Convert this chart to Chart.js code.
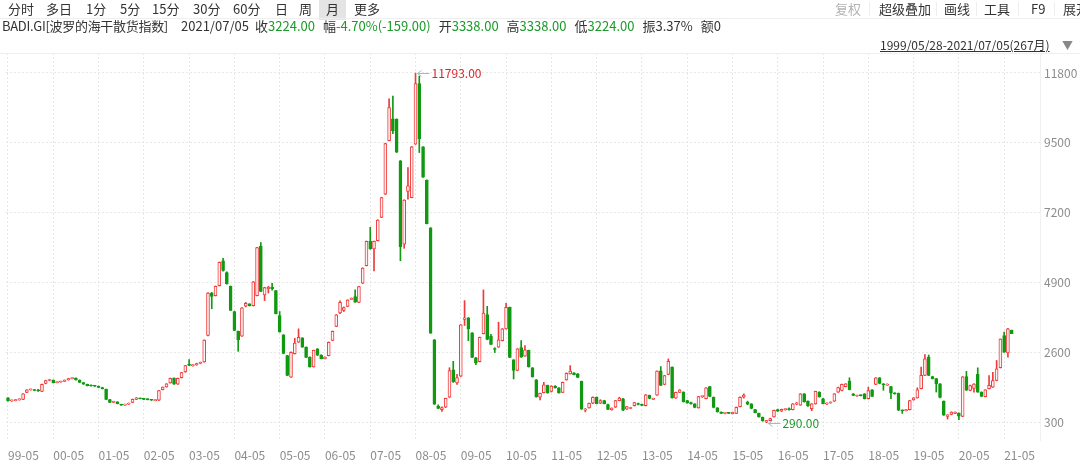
<!DOCTYPE html>
<html>
<head>
<meta charset="utf-8">
<script src="https://cdn.jsdelivr.net/npm/chart.js@4.4.1/dist/chart.umd.min.js"></script>
<style>
  body { margin: 0; width: 1080px; height: 467px; overflow: hidden; background: #fff;
         font-family: "Noto Sans CJK SC", "Noto Sans", sans-serif; }
  #chart { position: absolute; left: 0; top: 0; }
  .t { position: absolute; font-size: 13px; color: #333; white-space: nowrap; line-height: 18px; }
  .g { color: #1a9a28; }
  .dim { color: #b4b4b4; }
  .info { position: absolute; left: 255px; top: 17px; display: flex; font-size: 13px; color: #333;
          line-height: 18px; white-space: nowrap; }
  .info span.grp { margin-right: 8px; }
  .sel { position: absolute; left: 319px; top: 0; width: 27px; height: 20px; background: #e4e4e4; }
  .hl { position: absolute; left: 0; width: 1080px; height: 1px; background: #efefef; }
  .vl { position: absolute; top: 2px; width: 1px; height: 14px; background: #eeeeee; }
  .range { position: absolute; left: 880px; top: 37px; font-size: 12px; color: #333;
           text-decoration: underline; line-height: 16px; white-space: nowrap; }
  .arrow { position: absolute; left: 1062px; top: 37px; font-size: 11px; color: #888; line-height: 16px; }
</style>
</head>
<body>
<canvas id="chart" width="1080" height="467"></canvas>

<div class="sel"></div>
<div class="hl" style="top:18px"></div>
<div class="hl" style="top:53px"></div>

<!-- barra periodi -->
<div class="t" style="left:8px;top:0">分时</div>
<div class="t" style="left:46px;top:0">多日</div>
<div class="t" style="left:86px;top:0">1分</div>
<div class="t" style="left:120px;top:0">5分</div>
<div class="t" style="left:152px;top:0">15分</div>
<div class="t" style="left:193px;top:0">30分</div>
<div class="t" style="left:233px;top:0">60分</div>
<div class="t" style="left:275px;top:0">日</div>
<div class="t" style="left:299px;top:0">周</div>
<div class="t" style="left:326px;top:0">月</div>
<div class="t" style="left:354px;top:0">更多</div>

<div class="t dim" style="left:835px;top:0">复权</div>
<div class="vl" style="left:869px"></div>
<div class="t" style="left:879px;top:0">超级叠加</div>
<div class="vl" style="left:936px"></div>
<div class="t" style="left:944px;top:0">画线</div>
<div class="vl" style="left:976px"></div>
<div class="t" style="left:984px;top:0">工具</div>
<div class="vl" style="left:1018px"></div>
<div class="t" style="left:1031px;top:0">F9</div>
<div class="vl" style="left:1054px"></div>
<div class="t" style="left:1063px;top:0">展开</div>

<!-- riga info -->
<div class="t" style="left:2px;top:17px;letter-spacing:-0.3px">BADI.GI[波罗的海干散货指数]</div>
<div class="t" style="left:181px;top:17px">2021/07/05</div>
<div class="info">
  <span class="grp">收<span class="g">3224.00</span></span>
  <span class="grp">幅<span class="g">-4.70%(-159.00)</span></span>
  <span class="grp">开<span class="g">3338.00</span></span>
  <span class="grp">高<span class="g">3338.00</span></span>
  <span class="grp">低<span class="g">3224.00</span></span>
  <span class="grp">振3.37%</span>
  <span class="grp">额0</span>
</div>

<div class="range">1999/05/28-2021/07/05(267月)</div>
<div class="arrow">▼</div>

<script>
// dati mensili BDI, 1999/05 - 2021/07
const opens = [
  1110,1010,1020,1040,1060,1290,1370,1380,                      // 1999 (mag-dic)
  1360,1320,1580,1680,1690,1610,1630,1650,1700,1740,1760,1690,  // 2000
  1610,1550,1520,1500,1490,1450,1395,1056,960,980,890,870,      // 2001
  900,960,1060,1090,1080,1060,1050,1020,1030,1380,1470,1600,    // 2002
  1760,1560,1770,1960,2200,2170,2190,2240,2290,3160,4560,4470,  // 2003
  4800,5620,5230,4780,3950,3300,3140,4130,4200,4140,4470,6100,  // 2004
  4500,4700,4750,4640,3820,3180,2500,1790,2560,2940,3080,2780,  // 2005
  2450,2130,2720,2520,2400,2500,3000,3460,3900,3990,4120,4350,  // 2006
  4440,4250,4880,5460,6260,6010,6280,7050,7810,9570,10290,10280,// 2007
  8910,6170,7900,7700,9460,11450,9370,8270,6700,3020,840,720,   // 2008
  800,1130,2030,1600,1820,3690,3740,3250,2430,2300,3220,3850,   // 2009
  3130,2730,2780,2990,3380,4090,2360,2010,2760,2480,2670,2100,  // 2010
  1700,1130,1280,1520,1320,1500,1440,1290,1700,1900,1930,1900,  // 2011
  1650,700,780,930,1130,930,1020,890,720,800,1020,1080,         // 2012
  740,760,850,920,890,850,1190,1060,1200,2000,1550,1880,        // 2013
  2120,1100,1290,1300,1020,950,910,780,1150,1080,1480,1130,     // 2014
  780,640,600,610,590,600,820,1130,960,910,720,600,             // 2015
  470,310,360,480,720,670,720,760,720,900,870,1240,             // 2016
  1000,750,910,1300,1080,900,940,1000,1300,1350,1480,1660,      // 2017
  1240,1170,1190,1240,1080,1370,1550,1770,1570,1530,1480,1270,  // 2018
  1260,690,690,720,1040,1110,1410,1850,2450,1810,1740,1570,     // 2019
  1000,500,560,600,610,500,1810,1350,1420,1880,1300,1150,       // 2020
  1410,1460,1680,2100,3160,2590,3338                            // 2021 (gen-lug)
];
const highs = [
  1120,1040,1060,1080,1250,1380,1400,1390,
  1390,1560,1690,1720,1700,1640,1660,1700,1750,1770,1770,1700,
  1620,1560,1540,1520,1500,1460,1400,1060,1000,985,895,900,
  940,1070,1120,1100,1090,1070,1060,1050,1360,1470,1580,1760,
  1770,1760,1950,2180,2370,2200,2250,2290,3020,4570,4580,4790,
  5580,5700,5260,4790,3960,3310,4080,4250,4210,4940,6060,6220,
  4750,4780,4880,4650,3950,3190,2510,2620,3070,3380,3090,2790,
  2460,2680,2730,2530,2460,2950,3310,3850,4300,4100,4340,4400,
  4660,4780,5390,6270,6720,6270,6970,7710,9490,10950,11039,10290,
  8920,7630,8690,9380,11793,11700,9380,8280,6710,3030,880,810,
  1100,2100,2310,1880,3520,4310,3750,3260,2440,3110,4661,4120,
  3200,2760,3600,3390,4220,4100,2370,2730,2990,2830,2680,2110,
  1710,1270,1620,1530,1510,1510,1450,1630,1930,2170,1940,1910,
  1660,760,940,1140,1140,1050,1030,900,780,1030,1130,1090,
  830,800,960,940,900,1220,1200,1100,2000,2140,1850,2390,
  2130,1300,1380,1310,1030,970,920,1160,1170,1450,1490,1140,
  790,650,620,630,640,810,1140,1240,1000,920,730,610,
  480,370,440,710,740,740,750,780,920,960,1250,1250,
  1010,920,1330,1310,1090,950,980,1250,1460,1560,1580,1770,
  1250,1200,1200,1250,1460,1380,1780,1780,1580,1570,1490,1280,
  1270,710,730,1030,1120,1440,2120,2530,2518,1820,1750,1580,
  1010,560,650,650,620,1810,1980,1530,1580,2097,1310,1380,
  1840,1950,2340,3050,3270,3400,3338
];
const lows = [
  1000,990,1010,1030,1050,1280,1360,1340,
  1320,1310,1570,1670,1600,1600,1620,1640,1690,1730,1690,1610,
  1550,1500,1490,1480,1440,1400,1050,950,950,910,860,860,
  890,950,1050,1070,1050,1040,1020,1010,1020,1370,1460,1590,
  1550,1550,1760,1950,2170,2150,2180,2230,2280,3150,4040,4460,
  4790,5280,4850,3980,3320,2640,3130,4100,4130,4130,4460,4600,
  4310,4560,4650,3870,3270,2560,1840,1780,2550,2930,2770,2430,
  2120,2120,2500,2390,2390,2490,2990,3450,3880,3950,4110,4340,
  4250,4240,4870,5450,6000,5290,6270,7040,7800,9560,9800,9180,
  5620,6030,7650,7690,9450,9180,8360,6830,3230,890,750,663,
  790,1120,1620,1550,1810,3490,2990,2430,2200,2290,3210,3020,
  2860,2600,2770,2980,3370,2430,1730,2000,2440,2470,2120,1790,
  1130,1043,1270,1260,1300,1430,1260,1280,1690,1890,1860,1770,
  730,647,770,920,910,920,910,720,700,790,1010,690,
  730,750,840,880,850,840,1080,1050,1190,1510,1540,1870,
  1100,1090,1280,970,930,900,780,770,1120,1070,1150,780,
  640,590,580,590,580,590,810,1100,880,750,610,470,
  340,290,350,470,660,660,700,700,710,880,860,970,
  830,685,900,1130,910,890,930,990,1290,1340,1470,1370,
  1180,1160,1170,1070,1070,1150,1540,1570,1360,1520,1080,1230,
  690,595,680,710,1030,1100,1400,1840,1840,1730,1300,1110,
  530,411,550,590,393,490,1350,1340,1300,1290,1150,1140,
  1400,1450,1670,2090,2600,2450,3224
];
const closes = [
  1010,1020,1050,1070,1240,1370,1390,1350,
  1340,1550,1680,1700,1610,1630,1650,1690,1740,1760,1700,1620,
  1560,1510,1500,1490,1450,1410,1060,960,990,915,870,885,
  930,1060,1110,1080,1060,1050,1030,1040,1350,1460,1570,1750,
  1560,1750,1940,2170,2180,2190,2240,2280,3010,4560,4450,4780,
  5570,5300,4870,3990,3330,3020,4070,4220,4140,4930,6050,4610,
  4740,4750,4700,3880,3280,2570,1850,2610,2910,3100,2780,2440,
  2130,2670,2510,2400,2450,2940,3300,3840,4250,4080,4330,4380,
  4260,4770,5380,6260,6010,6260,6960,7700,9480,10660,9900,9190,
  6080,7620,8090,9370,11450,9630,8370,6840,3240,900,760,790,
  1090,2010,1630,1780,3510,3740,3380,2440,2260,3100,3900,3030,
  2870,2700,3020,3380,4090,2440,2010,2720,2450,2690,2130,1800,
  1140,1260,1540,1270,1500,1440,1270,1620,1920,1990,1870,1780,
  740,740,930,1130,920,1020,920,730,770,1020,1100,700,
  820,790,950,890,860,1210,1090,1090,1990,1520,1840,2310,
  1110,1290,1370,980,940,910,790,1150,1160,1440,1160,790,
  650,600,610,600,630,800,1130,1200,900,760,620,480,
  350,360,430,700,670,730,740,720,910,930,1240,980,
  840,910,1320,1140,920,940,970,1240,1450,1550,1570,1380,
  1190,1190,1180,1080,1350,1160,1770,1580,1540,1560,1260,1240,
  700,680,720,1020,1110,1370,1850,2390,1850,1740,1570,1120,
  540,550,640,640,510,1800,1360,1510,1560,1300,1160,1370,
  1520,1680,2060,3040,2610,3383,3224
];

const yTicks = [300, 2600, 4900, 7200, 9500, 11800];

// categorie: un mese per slot, con qualche slot vuoto a destra
const months = [];
for (let k = 0; k < 274; k++) {
  const m = (4 + k) % 12 + 1;
  const y = 1999 + Math.floor((4 + k) / 12);
  months.push(String(y % 100).padStart(2, '0') + '-' + String(m).padStart(2, '0'));
}

const UP = '#ef3b3b';
const DOWN = '#119a11';
const isUp = opens.map((o, i) => closes[i] >= o);

const wickData = lows.map((l, i) => [l, highs[i]]);
const bodyData = opens.map((o, i) => [o, closes[i]]);

// etichette max / min
const extremesPlugin = {
  id: 'extremes',
  afterDatasetsDraw(chart) {
    const ctx = chart.ctx;
    const xs = chart.scales.x;
    const ys = chart.scales.y;
    const maxV = Math.max(...highs);
    const minV = Math.min(...lows);
    const marks = [
      { idx: highs.indexOf(maxV), v: maxV, color: '#d9262c' },
      { idx: lows.indexOf(minV), v: minV, color: '#1a9a28' }
    ];
    ctx.save();
    marks.forEach(mk => {
      const x = xs.getPixelForValue(mk.idx);
      const y = Math.round(ys.getPixelForValue(mk.v)) + 0.5;
      ctx.strokeStyle = '#9fbad2';
      ctx.lineWidth = 1;
      ctx.beginPath();
      ctx.moveTo(x + 2, y);
      ctx.lineTo(x + 14, y);
      ctx.moveTo(x + 6, y - 3);
      ctx.lineTo(x + 2, y);
      ctx.lineTo(x + 6, y + 3);
      ctx.stroke();
      ctx.fillStyle = mk.color;
      ctx.font = '12px "Noto Sans CJK SC", "Noto Sans", sans-serif';
      ctx.textAlign = 'left';
      ctx.textBaseline = 'middle';
      ctx.fillText(mk.v.toFixed(2), x + 16, y);
    });
    ctx.restore();
  }
};

new Chart(document.getElementById('chart'), {
  type: 'bar',
  data: {
    labels: months,
    datasets: [
      {
        label: 'wick',
        data: wickData,
        backgroundColor: isUp.map(u => u ? UP : DOWN),
        barThickness: 1,
        grouped: false,
        order: 2
      },
      {
        label: 'body',
        data: bodyData,
        backgroundColor: isUp.map(u => u ? '#fff2f2' : DOWN),
        borderColor: isUp.map(u => u ? UP : DOWN),
        borderWidth: 1,
        borderSkipped: false,
        barThickness: 3,
        minBarLength: 1,
        grouped: false,
        order: 1
      }
    ]
  },
  options: {
    responsive: false,
    animation: false,
    layout: { padding: { top: 53, bottom: 5, left: 0, right: 0 } },
    plugins: {
      legend: { display: false },
      tooltip: { enabled: false }
    },
    scales: {
      x: {
        offset: true,
        afterFit: (axis) => { axis.height = 22; },
        grid: {
          offset: false,
          drawTicks: false,
          color: (c) => (c.index !== undefined && months[c.index] && months[c.index].endsWith('-05')) ? '#e6e6e6' : 'rgba(0,0,0,0)'
        },
        border: { display: false, dash: [2, 2] },
        ticks: {
          autoSkip: false,
          maxRotation: 0,
          minRotation: 0,
          align: 'start',
          padding: 8,
          color: '#8c8c8c',
          font: { size: 12, family: '"Noto Sans CJK SC", "Noto Sans", sans-serif' },
          callback: (v, i) => months[i].endsWith('-05') ? months[i] : ''
        }
      },
      y: {
        position: 'right',
        min: -278,
        max: 12457,
        afterBuildTicks: (axis) => { axis.ticks = yTicks.map(v => ({ value: v })); },
        afterFit: (axis) => { axis.width = 40; },
        grid: { color: '#e6e6e6', drawTicks: false },
        border: { display: true, color: '#f0f0f0', dash: [2, 2] },
        ticks: {
          padding: 4,
          color: '#8c8c8c',
          font: { size: 12, family: '"Noto Sans CJK SC", "Noto Sans", sans-serif' },
          callback: (v) => String(v)
        }
      }
    }
  },
  plugins: [extremesPlugin]
});
</script>
</body>
</html>
